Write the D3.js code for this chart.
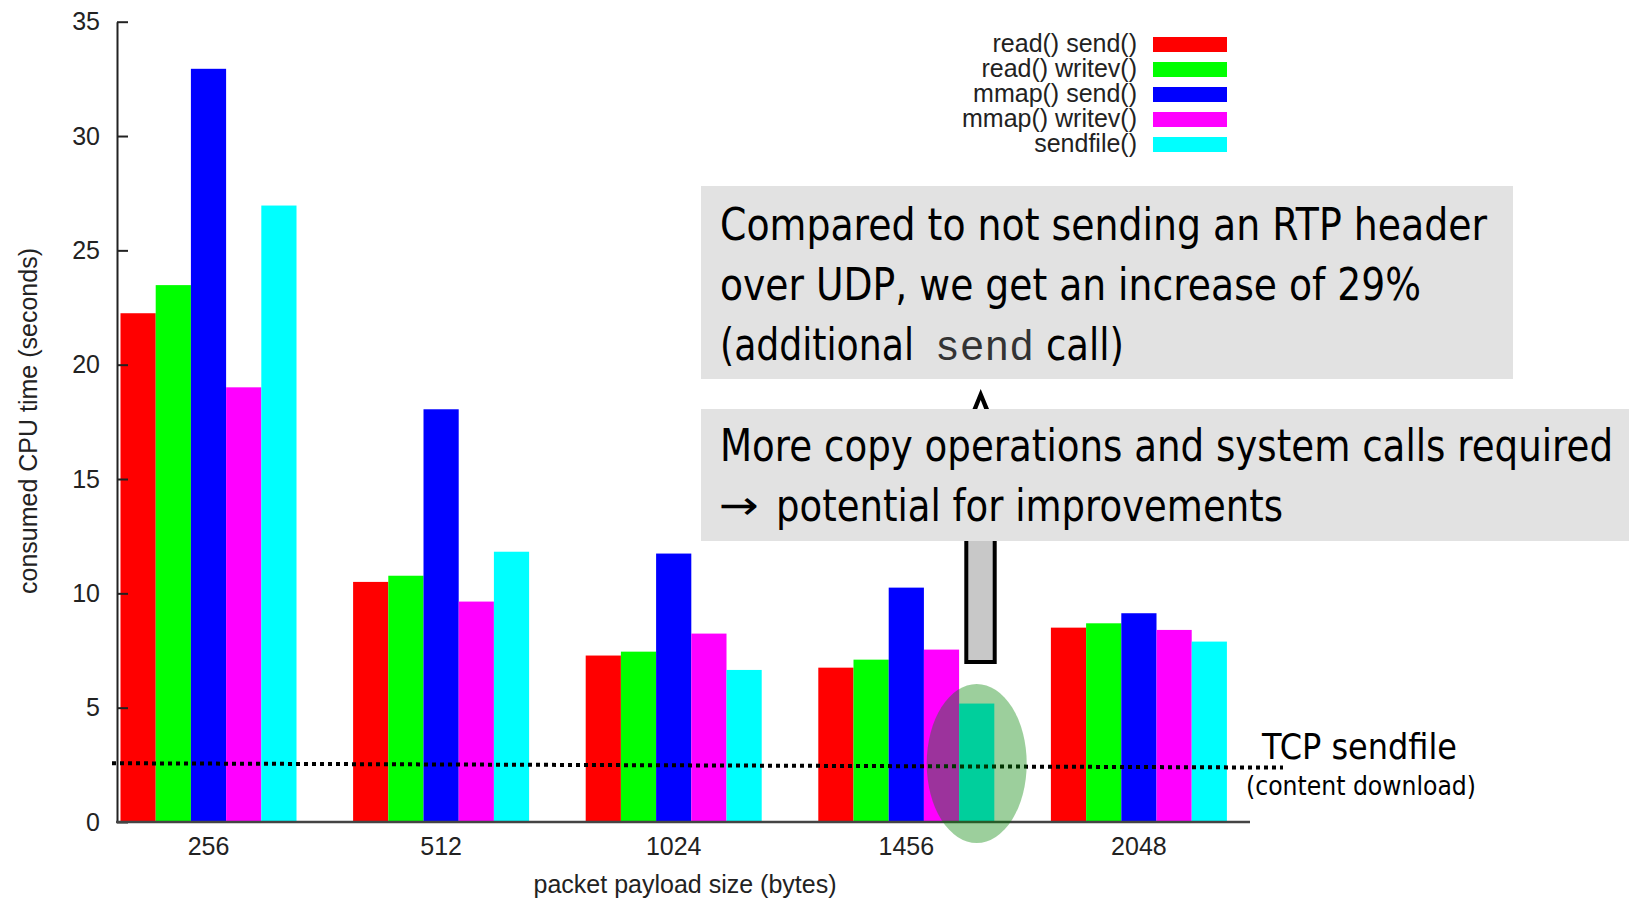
<!DOCTYPE html>
<html>
<head>
<meta charset="utf-8">
<script src="https://cdn.jsdelivr.net/npm/d3@7"></script>
<style>
  html, body { margin: 0; padding: 0; background: #fff; }
  svg { display: block; }
</style>
</head>
<body>
<svg id="chart" width="1629" height="899"></svg>
<script>
// ---------- data ----------
const categories = ["256", "512", "1024", "1456", "2048"];
const seriesNames = ["read() send()", "read() writev()", "mmap() send()", "mmap() writev()", "sendfile()"];
const readSend   = [22.25, 10.50, 7.28, 6.75, 8.50];
const readWritev = [23.48, 10.77, 7.45, 7.10, 8.69];
const mmapSend   = [32.94, 18.05, 11.74, 10.25, 9.13];
const mmapWritev = [19.01, 9.64, 8.24, 7.54, 8.40];
const sendfile   = [26.96, 11.82, 6.65, 5.18, 7.89];
const yTicks = [0, 5, 10, 15, 20, 25, 30, 35];
const tcpSendfileLevel = [2.57, 2.38]; // dotted reference line (start, end)
const seriesColors = ["#ff0000", "#00ff00", "#0000ff", "#ff00ff", "#00ffff"];
const seriesValues = [readSend, readWritev, mmapSend, mmapWritev, sendfile];

const yTitle = "consumed CPU time (seconds)";
const xTitle = "packet payload size (bytes)";
const box1Lines = ["Compared to not sending an RTP header", "over UDP, we get an increase of 29%"];
const box2Lines = ["More copy operations and system calls required", "potential for improvements"];

// ---------- layout ----------
const svg = d3.select("#chart");
const gnuFont = "'Liberation Sans', Arial, Helvetica, sans-serif";
const slideFont = "'DejaVu Sans', Verdana, Tahoma, sans-serif";

const y = d3.scaleLinear().domain([0, 35]).range([822, 21.7]);
const padIn = 0.2433;
const step = 232.6;
const x0 = d3.scaleBand().domain(categories)
  .range([120.5, 120.5 + step * (categories.length - padIn)])
  .paddingInner(padIn).paddingOuter(0);
const x1 = d3.scaleBand().domain(seriesNames).range([0, x0.bandwidth()]);

// ---------- bars ----------
const rows = [];
categories.forEach((c, ci) => {
  seriesNames.forEach((s, si) => {
    rows.push({ c, s, v: seriesValues[si][ci], color: seriesColors[si] });
  });
});
svg.append("g").selectAll("rect").data(rows).join("rect")
  .attr("x", d => x0(d.c) + x1(d.s))
  .attr("width", x1.bandwidth())
  .attr("y", d => y(d.v))
  .attr("height", d => y(0) - y(d.v))
  .attr("fill", d => d.color);

// ---------- axes ----------
const yAxis = svg.append("g").attr("transform", "translate(117,0)")
  .call(d3.axisLeft(y).tickValues(yTicks).tickSize(-11).tickSizeOuter(0).tickPadding(17));
yAxis.select(".domain").attr("stroke", "#222").attr("stroke-width", 2);
yAxis.selectAll(".tick line").attr("stroke", "#222").attr("stroke-width", 2);
yAxis.selectAll("text").attr("font-family", gnuFont).attr("font-size", 25).attr("fill", "#222");

const xAxis = svg.append("g").attr("transform", "translate(0,822)")
  .call(d3.axisBottom(x0).tickSize(0).tickPadding(15));
xAxis.select(".domain").remove();
xAxis.selectAll("text").attr("font-family", gnuFont).attr("font-size", 25).attr("fill", "#222");
svg.append("line").attr("x1", 116).attr("x2", 1250).attr("y1", 822).attr("y2", 822)
  .attr("stroke", "#444").attr("stroke-width", 2.5);

svg.append("text").attr("transform", "translate(37,421) rotate(-90)")
  .attr("text-anchor", "middle").attr("font-family", gnuFont).attr("font-size", 25)
  .attr("fill", "#222").text(yTitle);
svg.append("text").attr("x", 685).attr("y", 893)
  .attr("text-anchor", "middle").attr("font-family", gnuFont).attr("font-size", 25)
  .attr("fill", "#222").text(xTitle);

// ---------- legend ----------
const legend = svg.append("g");
seriesNames.forEach((s, i) => {
  legend.append("text").attr("x", 1137).attr("y", 52 + 25 * i)
    .attr("text-anchor", "end").attr("font-family", gnuFont).attr("font-size", 25)
    .attr("fill", "#222").text(s);
  legend.append("rect").attr("x", 1153).attr("y", 37 + 25 * i)
    .attr("width", 74).attr("height", 15).attr("fill", seriesColors[i]);
});

// ---------- dotted TCP sendfile line ----------
svg.append("line")
  .attr("x1", 112).attr("y1", y(tcpSendfileLevel[0]))
  .attr("x2", 1283).attr("y2", y(tcpSendfileLevel[1]))
  .attr("stroke", "#000").attr("stroke-width", 4).attr("stroke-dasharray", "4 4");

// ---------- highlight ellipse ----------
const hx = x0("1456") + x1("sendfile()") + x1.bandwidth() / 2;
svg.append("ellipse").attr("cx", hx).attr("cy", 763.5).attr("rx", 50).attr("ry", 79.5)
  .attr("fill", "#008400").attr("fill-opacity", 0.39);

// ---------- arrow shaft ----------
svg.append("rect").attr("x", 966.3).attr("y", 520).attr("width", 28.4).attr("height", 142)
  .attr("fill", "#c8c8c8").attr("stroke", "#000").attr("stroke-width", 4);

// ---------- boxes ----------
svg.append("rect").attr("x", 701).attr("y", 186).attr("width", 812).attr("height", 193).attr("fill", "#e2e2e2");
svg.append("rect").attr("x", 701).attr("y", 409).attr("width", 928).attr("height", 132).attr("fill", "#e2e2e2");

// arrow head
svg.append("path")
  .attr("d", "M980.7,389 L972.5,409 L977.2,409 L980.7,400 L984.2,409 L989,409 Z")
  .attr("fill", "#000");

// ---------- box texts (vertically stretched like the slide) ----------
function slideText(str, x, yy, size, len, sy, family) {
  return svg.append("text")
    .attr("transform", `translate(${x},${yy}) scale(1,${sy})`)
    .attr("x", 0).attr("y", 0)
    .attr("font-family", family || slideFont).attr("font-size", size / sy)
    .attr("fill", "#000")
    .attr("textLength", len).attr("lengthAdjust", "spacingAndGlyphs")
    .text(str);
}
slideText(box1Lines[0], 720, 240, 44, 767, 1.3);
slideText(box1Lines[1], 720, 300, 44, 701, 1.3);
slideText("(additional", 720, 360, 44, 194, 1.3);
slideText("send", 935, 360, 42, 99, 1.3, "'Liberation Mono', 'Courier New', monospace").attr("fill", "#333");
slideText("call)", 1046, 360, 44, 78, 1.3);
slideText(box2Lines[0], 720, 461, 44, 893, 1.3);
slideText("\u2192", 719, 519, 40, 40, 1.1, "'DejaVu Sans', sans-serif");
slideText(box2Lines[1], 776, 521, 44, 507, 1.3);

slideText("TCP sendfile", 1262, 759, 36, 195, 1.14);
slideText("(content download)", 1246, 795, 26, 230, 1.17);
</script>
</body>
</html>
